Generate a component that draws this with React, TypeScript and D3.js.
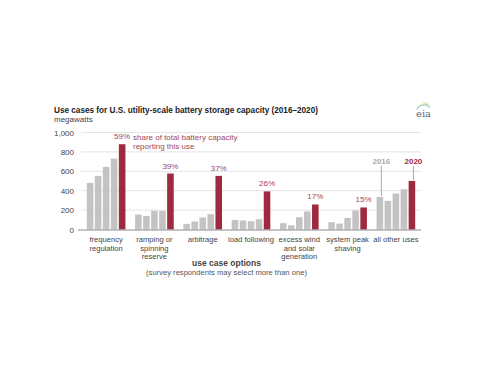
import React from "react";
import * as d3 from "d3";

const categories = [
  ["frequency", "regulation"],
  ["ramping or", "spinning", "reserve"],
  ["arbitrage"],
  ["load following"],
  ["excess wind", "and solar", "generation"],
  ["system peak", "shaving"],
  ["all other uses"],
];
const years = ["2016", "2017", "2018", "2019", "2020"];
const freqReg = [480, 553, 645, 731, 879];
const ramping = [155, 140, 192, 192, 577];
const arbitrage = [58, 82, 124, 158, 553];
const loadFollowing = [99, 93, 86, 106, 393];
const excessWind = [65, 43, 127, 186, 258];
const peakShaving = [75, 61, 120, 196, 227];
const otherUses = [336, 295, 371, 415, 501];
const shares = ["59%", "39%", "37%", "26%", "17%", "15%", ""];
const yTicks = [0, 200, 400, 600, 800, 1000];

const series = [freqReg, ramping, arbitrage, loadFollowing, excessWind, peakShaving, otherUses];

const FONT = "'Liberation Sans', Arial, sans-serif";
const RED = "#9e2a3f";
const GREY = "#c3c3c3";
const ANNO = "#a0475a";

export default function App() {
  const keys = categories.map((_, i) => String(i));
  const x = d3.scaleBand().domain(keys).range([81, 421]).paddingInner(0.2).paddingOuter(0.12);
  const xi = d3.scaleBand().domain(years).range([0, x.bandwidth()]).paddingInner(0.18);
  const y = d3.scaleLinear().domain([0, 1000]).range([229.5, 132.5]);

  const lastGroup = x(keys[6])!;
  const l2016x = lastGroup + xi("2016")! + xi.bandwidth() / 2 + 1.5;
  const l2020x = lastGroup + xi("2020")! + xi.bandwidth() / 2 + 1.5;

  return (
    <svg width={464} height={365} style={{ display: "block" }} fontFamily={FONT}>
      <g transform="translate(-8,-8)">
        <rect x={8} y={8} width={464} height={365} fill="#fff" />
        <text x={54} y={113} fontSize={8.2} fontWeight="bold" fill="#222">
          Use cases for U.S. utility-scale battery storage capacity (2016–2020)
        </text>
        <text x={54} y={122} fontSize={8} fill="#444">megawatts</text>

        {/* eia logo */}
        <g>
          <path d="M417,110 A7,6 0 0 1 430,108" fill="none" stroke="#9fd3e8" strokeWidth={1.2} />
          <path d="M419,107.5 A6,5 0 0 1 429,105.5" fill="none" stroke="#b9dc8a" strokeWidth={1} />
          <path d="M422,105 A4,3 0 0 1 428,103.5" fill="none" stroke="#f3e38a" strokeWidth={0.9} />
          <text x={416} y={117} fontSize={10} fontFamily="'DejaVu Serif', 'Liberation Serif', serif" fill="#5a6b7a">eia</text>
        </g>

        {yTicks.filter((t) => t > 0).map((t) => (
          <line key={t} x1={81} x2={421} y1={y(t)} y2={y(t)} stroke="#e4e4e4" strokeWidth={1} />
        ))}
        {yTicks.map((t) => (
          <text key={"l" + t} x={74} y={y(t) + 3} fontSize={8} textAnchor="end" fill="#444">
            {d3.format(",")(t)}
          </text>
        ))}

        {series.map((vals, gi) => (
          <g key={gi} transform={`translate(${x(keys[gi])},0)`}>
            {vals.map((v, yi) => (
              <rect
                key={yi}
                x={xi(years[yi])}
                y={y(v)}
                width={xi.bandwidth()}
                height={y(0) - y(v)}
                fill={yi === 4 ? RED : GREY}
              />
            ))}
            {shares[gi] && (
              <text
                x={xi("2020")! + xi.bandwidth() / 2}
                y={y(vals[4]) - 5}
                fontSize={8}
                textAnchor="middle"
                fill={ANNO}
              >
                {shares[gi]}
              </text>
            )}
            {categories[gi].map((line, li) => (
              <text
                key={li}
                x={x.bandwidth() / 2}
                y={242 + li * 8.5}
                fontSize={7.6}
                textAnchor="middle"
                fill="#444"
              >
                {line}
              </text>
            ))}
          </g>
        ))}

        <line x1={78} x2={421} y1={y(0) + 0.5} y2={y(0) + 0.5} stroke="#8a8a8a" strokeWidth={1} />

        <text x={133} y={140} fontSize={8} fill={ANNO}>share of total battery capacity</text>
        <text x={133} y={149} fontSize={8} fill={ANNO}>reporting this use</text>

        <text x={l2016x} y={164} fontSize={8} fontWeight="bold" textAnchor="middle" fill="#aaaaaa">2016</text>
        <line x1={l2016x} x2={l2016x} y1={166} y2={y(otherUses[0]) - 1} stroke="#aaaaaa" strokeWidth={1} />
        <text x={l2020x} y={164} fontSize={8} fontWeight="bold" textAnchor="middle" fill={RED}>2020</text>
        <line x1={l2020x} x2={l2020x} y1={166} y2={y(otherUses[4]) - 1} stroke="#aaaaaa" strokeWidth={1} />

        <text x={226.5} y={266} fontSize={8.5} fontWeight="bold" textAnchor="middle" fill="#444">use case options</text>
        <text x={226.5} y={275} fontSize={7.6} textAnchor="middle" fill="#555">
          (survey respondents may select more than one)
        </text>
      </g>
    </svg>
  );
}
